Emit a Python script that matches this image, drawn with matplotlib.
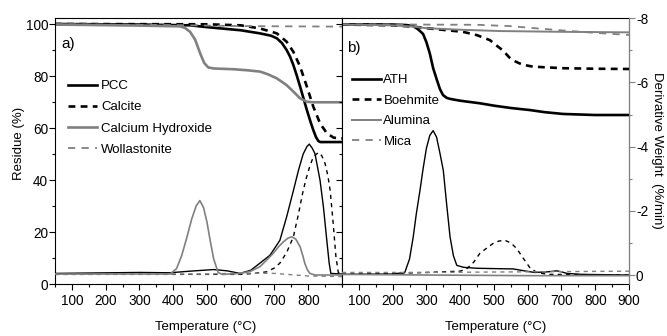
import matplotlib
matplotlib.use("Agg")
import matplotlib.pyplot as plt
from matplotlib.ticker import MultipleLocator

plt.rcParams["font.family"] = ["Liberation Sans", "DejaVu Sans"]
plt.rcParams["axes.unicode_minus"] = False
plt.rcParams["font.size"] = 9.5

GRAY = "#808080"

# ---- panel a) residue (%) vs temperature (°C)
PCC_T = [50, 300, 450, 500, 600, 657, 690, 707, 722, 736, 746, 756, 766, 776, 786, 796, 806, 815, 823, 830, 836, 900]
PCC_RES = [100, 99.8, 99.5, 98.8, 97.6, 96.4, 95.5, 94.5, 92.7, 90, 87.5, 84.2, 80.2, 75.9, 71.4, 66.9, 62.7, 59.2, 56.5, 55, 54.6, 54.6]
CAL_T = [50, 500, 600, 657, 707, 736, 756, 776, 796, 815, 835, 855, 875, 894, 900]
CAL_RES = [100, 99.9, 99.5, 98.3, 96.4, 93.2, 89.3, 83.6, 75.9, 68.2, 61.8, 58, 56.3, 56, 56]
CAOH_T = [50, 300, 420, 435, 450, 465, 480, 492, 504, 520, 580, 620, 657, 680, 707, 736, 756, 776, 796, 815, 900]
CAOH_RES = [99.8, 99.4, 99.1, 98.5, 97, 94, 88.7, 85, 83.3, 82.9, 82.6, 82.2, 81.7, 80.7, 79.1, 76.5, 74, 71.4, 70.1, 69.9, 69.9]
WOL_T = [50, 400, 600, 900]
WOL_RES = [99.9, 99.6, 99.2, 99.0]

# ---- panel a) derivative weight (%/min)
PCC_DT = [50, 300, 390, 450, 520, 560, 598, 630, 657, 687, 716, 736, 756, 771, 785, 796, 803, 812, 820, 835, 845, 855, 862, 867, 900]
PCC_DTG = [-0.05, -0.08, -0.07, -0.12, -0.17, -0.13, -0.05, -0.15, -0.37, -0.62, -1.08, -1.81, -2.63, -3.26, -3.77, -4.0, -4.08, -3.95, -3.78, -2.95, -2.12, -1.08, -0.37, -0.05, -0.03]
CAL_DT = [50, 600, 640, 677, 700, 716, 736, 756, 770, 785, 795, 805, 815, 830, 840, 850, 858, 865, 874, 882, 889, 900]
CAL_DTG = [-0.02, -0.02, -0.05, -0.1, -0.22, -0.37, -0.7, -1.19, -1.85, -2.63, -3.05, -3.4, -3.68, -3.82, -3.72, -3.47, -3.1, -2.63, -1.6, -0.57, -0.08, -0.02]
CAOH_DT = [50, 391, 410, 425, 440, 455, 468, 479, 490, 500, 510, 520, 533, 545, 600, 630, 657, 680, 696, 712, 726, 740, 751, 763, 776, 784, 790, 798, 805, 820, 900]
CAOH_DTG = [-0.03, -0.03, -0.2, -0.6, -1.15, -1.75, -2.15, -2.32, -2.1, -1.65, -1.05, -0.5, -0.08, -0.02, -0.05, -0.12, -0.26, -0.5, -0.67, -0.88, -1.03, -1.15, -1.19, -1.12, -0.88, -0.6, -0.36, -0.15, -0.05, 0, 0]
WOL_DT = [50, 500, 600, 700, 800, 900]
WOL_DTG = [-0.02, -0.03, -0.06, -0.05, 0.03, 0.05]

# ---- panel b) residue (%)
ATH_T = [50, 200, 240, 260, 275, 290, 300, 310, 320, 331, 340, 349, 360, 370, 400, 459, 500, 550, 607, 650, 705, 800, 900]
ATH_RES = [99.9, 99.8, 99.6, 99.3, 98, 96.2, 93, 88.7, 83, 78.5, 75, 72.7, 71.6, 71.2, 70.5, 69.5, 68.6, 67.7, 66.9, 66.1, 65.4, 65, 65]
BOE_T = [50, 200, 260, 330, 408, 450, 488, 510, 527, 545, 557, 575, 587, 616, 705, 800, 900]
BOE_RES = [99.8, 99.5, 99.0, 98.0, 97.0, 95.7, 93.8, 91.5, 89.8, 87.2, 86.0, 84.9, 84.3, 83.6, 83.0, 82.8, 82.7]
ALU_T = [50, 200, 260, 300, 400, 518, 700, 900]
ALU_RES = [99.8, 99.5, 99.0, 98.4, 97.8, 97.3, 97.0, 96.8]
MICA_T = [50, 450, 547, 620, 716, 800, 900]
MICA_RES = [99.9, 99.7, 99.2, 98.4, 97.4, 96.6, 95.8]

# ---- panel b) derivative weight (%/min)
ATH_DT = [50, 200, 236, 250, 261, 270, 281, 290, 300, 310, 320, 330, 340, 350, 360, 370, 380, 390, 410, 450, 500, 557, 590, 620, 660, 686, 700, 716, 760, 900]
ATH_DTG = [-0.02, -0.03, -0.08, -0.5, -1.19, -1.9, -2.64, -3.3, -3.95, -4.35, -4.5, -4.3, -3.8, -3.26, -2.2, -1.19, -0.6, -0.3, -0.24, -0.21, -0.2, -0.19, -0.13, -0.08, -0.1, -0.13, -0.1, -0.05, -0.02, 0]
BOE_DT = [50, 200, 300, 400, 420, 440, 458, 480, 497, 515, 533, 550, 567, 585, 607, 627, 660, 900]
BOE_DTG = [-0.03, -0.05, -0.08, -0.12, -0.2, -0.4, -0.67, -0.85, -0.98, -1.06, -1.08, -1.0, -0.83, -0.55, -0.22, -0.08, -0.02, 0]
ALU_DT = [50, 300, 600, 900]
ALU_DTG = [-0.02, 0.0, 0.02, 0.02]
MICA_DT = [50, 300, 600, 900]
MICA_DTG = [-0.08, -0.08, -0.1, -0.12]

TEMP_LABEL = "Temperature (\u00b0C)"

fig = plt.figure(figsize=(6.67, 3.36), dpi=100)
axa = fig.add_axes([55 / 667, 52 / 336, 287 / 667, 265.7 / 336])
axb = fig.add_axes([342 / 667, 52 / 336, 287 / 667, 265.7 / 336])
ta = axa.twinx()
tb = axb.twinx()

THICK = 1.9
THIN = 1.0

# residue curves
axa.plot(PCC_T, PCC_RES, color="black", lw=THICK, label="PCC")
axa.plot(CAL_T, CAL_RES, color="black", lw=THICK, ls=(0, (2.6, 2.0)), label="Calcite")
axa.plot(CAOH_T, CAOH_RES, color=GRAY, lw=THICK, label="Calcium Hydroxide")
axa.plot(WOL_T, WOL_RES, color=GRAY, lw=1.3, ls=(0, (4, 3.5)), label="Wollastonite")
axb.plot(ATH_T, ATH_RES, color="black", lw=THICK, label="ATH")
axb.plot(BOE_T, BOE_RES, color="black", lw=THICK, ls=(0, (2.6, 2.0)), label="Boehmite")
axb.plot(ALU_T, ALU_RES, color=GRAY, lw=1.4, label="Alumina")
axb.plot(MICA_T, MICA_RES, color=GRAY, lw=1.3, ls=(0, (4, 3.5)), label="Mica")

# derivative curves
ta.plot(PCC_DT, PCC_DTG, color="black", lw=THIN)
ta.plot(CAL_DT, CAL_DTG, color="black", lw=THIN, ls=(0, (3, 3)))
ta.plot(CAOH_DT, CAOH_DTG, color=GRAY, lw=1.2)
ta.plot(WOL_DT, WOL_DTG, color=GRAY, lw=THIN, ls=(0, (3, 3)))
tb.plot(ATH_DT, ATH_DTG, color="black", lw=THIN)
tb.plot(BOE_DT, BOE_DTG, color="black", lw=THIN, ls=(0, (3, 3)))
tb.plot(ALU_DT, ALU_DTG, color=GRAY, lw=1.2)
tb.plot(MICA_DT, MICA_DTG, color=GRAY, lw=THIN, ls=(0, (3, 3)))

for ax, tw, ticks in [(axa, ta, range(100, 900, 100)), (axb, tb, range(100, 1000, 100))]:
    ax.set_xlim(50, 900)
    ax.set_ylim(0, 102.2)
    tw.set_ylim(0.28, -8.0)
    ax.set_xticks(list(ticks))
    ax.xaxis.set_minor_locator(MultipleLocator(50))
    ax.yaxis.set_major_locator(MultipleLocator(20))
    ax.yaxis.set_minor_locator(MultipleLocator(10))
    tw.yaxis.set_major_locator(MultipleLocator(2))
    tw.yaxis.set_minor_locator(MultipleLocator(1))
    ax.tick_params(which="both", direction="out", width=0.8, top=False, right=False)
    ax.tick_params(which="major", length=4)
    ax.tick_params(which="minor", length=2)
    ax.tick_params(axis="x", pad=3, labelsize=9.8)
    ax.tick_params(axis="y", pad=1, labelsize=9.8)
    for sp in ax.spines.values():
        sp.set_linewidth(0.8)
    for sp in tw.spines.values():
        sp.set_visible(False)

axb.tick_params(axis="y", labelleft=False)
ta.tick_params(which="both", right=False, labelright=False)
tb.spines["right"].set_visible(True)
tb.spines["right"].set_color(GRAY)
tb.spines["right"].set_linewidth(0.8)
tb.tick_params(which="both", direction="out", width=0.8, color=GRAY, pad=1, labelsize=9.8)
tb.tick_params(which="major", length=4)
tb.tick_params(which="minor", length=2)

axa.legend(loc="upper left", bbox_to_anchor=(0.046, 0.768), frameon=False, borderpad=0,
           borderaxespad=0, handlelength=2.15, handletextpad=0.35, labelspacing=0.68, fontsize=9.5)
axb.legend(loc="upper left", bbox_to_anchor=(0.034, 0.79), frameon=False, borderpad=0,
           borderaxespad=0, handlelength=2.25, handletextpad=0.15, labelspacing=0.62, fontsize=9.5)

axa.text(0.023, 0.903, "a)", transform=axa.transAxes, ha="left", va="center", fontsize=11)
axb.text(0.016, 0.89, "b)", transform=axb.transAxes, ha="left", va="center", fontsize=11)

fig.text(206 / 667, 1 - 327 / 336, TEMP_LABEL, ha="center", va="center", fontsize=9.5)
fig.text(496 / 667, 1 - 327 / 336, TEMP_LABEL, ha="center", va="center", fontsize=9.5)
fig.text(19 / 667, 1 - 143 / 336, "Residue (%)", rotation=90, ha="center", va="center", fontsize=9.5)
fig.text(657 / 667, 1 - 150 / 336, "Derivative Weight  (%/min)", rotation=270, ha="center", va="center", fontsize=9.5)

fig.savefig("out.png", dpi=100)
